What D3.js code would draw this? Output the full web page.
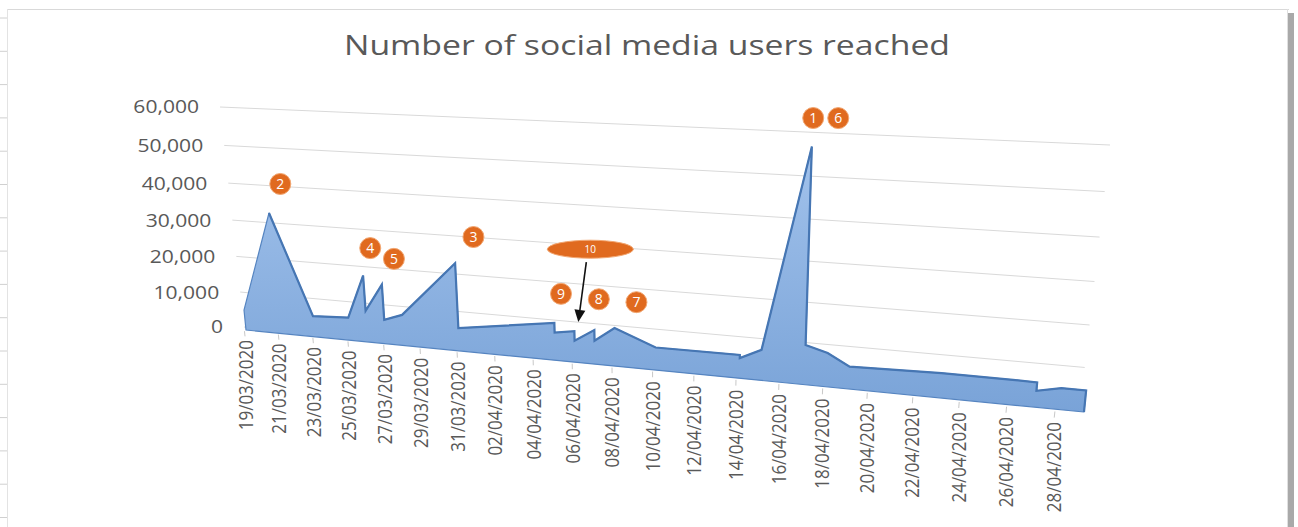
<!DOCTYPE html>
<html>
<head>
<meta charset="utf-8">
<script src="https://cdn.jsdelivr.net/npm/d3@7"></script>
<style>
  body { margin: 0; background: #fff; }
  svg { display: block; }
  text { font-family: "Open Sans", "Noto Sans", sans-serif; }
</style>
</head>
<body>
<svg id="chart" width="1298" height="527"></svg>
<script>
// posts per date (several posts on one day give vertical steps)
const dates = ["19/03/2020","21/03/2020","23/03/2020","25/03/2020","26/03/2020","26/03/2020",
  "27/03/2020","27/03/2020","28/03/2020","31/03/2020","31/03/2020","05/04/2020","05/04/2020",
  "06/04/2020","06/04/2020","07/04/2020","07/04/2020","08/04/2020","10/04/2020","14/04/2020",
  "14/04/2020","15/04/2020","17/04/2020","17/04/2020","18/04/2020","19/04/2020","23/04/2020",
  "26/04/2020","27/04/2020","27/04/2020","28/04/2020","29/04/2020"];
const reach = [5700, 33300, 5800, 6300, 18200, 8600, 16200, 6600, 8400, 23500, 6200, 9900, 7400,
  8200, 5700, 9000, 6200, 10000, 5900, 6000, 5200, 7800, 57400, 10000, 8500, 5600, 6100,
  6100, 6000, 4000, 5200, 5200];

const yTicks = [0, 10000, 20000, 30000, 40000, 50000, 60000];
const dateTicks = ["19/03/2020","21/03/2020","23/03/2020","25/03/2020","27/03/2020","29/03/2020",
  "31/03/2020","02/04/2020","04/04/2020","06/04/2020","08/04/2020","10/04/2020","12/04/2020",
  "14/04/2020","16/04/2020","18/04/2020","20/04/2020","22/04/2020","24/04/2020","26/04/2020",
  "28/04/2020"];

// numbered callouts, anchored in date / value space
const calloutText = ["1", "2", "3", "4", "5", "6", "7", "8", "9"];
const calloutAt = ["17/04/2020 00:30","21/03/2020 19:00","01/04/2020 00:30","26/03/2020 12:00",
  "27/03/2020 18:00","18/04/2020 02:00","09/04/2020 02:00","07/04/2020 06:00","05/04/2020 09:00"];
const calloutValue = [63900, 41300, 30700, 25800, 23400, 64100, 17150, 17100, 17700];
const noteText = "10";
const noteAt = "06/04/2020 21:00", noteValue = 29700;
const arrowAt = "06/04/2020 05:00", arrowValue = 10750;

const title = "Number of social media users reached";

const parseDay = d3.timeParse("%d/%m/%Y");
const parseTime = d3.timeParse("%d/%m/%Y %H:%M");
const SX = 1.17; // horizontal stretch of the text (wide Calibri look)

const svg = d3.select("#chart");

// maps the unit square (u = time, v = value) onto a quadrilateral, giving the 3D perspective
function homography(p00, p10, p11, p01) {
  const [x0, y0] = p00, [x1, y1] = p10, [x2, y2] = p11, [x3, y3] = p01;
  const dx1 = x1 - x2, dx2 = x3 - x2, dx3 = x0 - x1 + x2 - x3;
  const dy1 = y1 - y2, dy2 = y3 - y2, dy3 = y0 - y1 + y2 - y3;
  const den = dx1 * dy2 - dx2 * dy1;
  const g = (dx3 * dy2 - dx2 * dy3) / den, h = (dx1 * dy3 - dx3 * dy1) / den;
  const a = x1 - x0 + g * x1, b = x3 - x0 + h * x3, c = x0;
  const d = y1 - y0 + g * y1, e = y3 - y0 + h * y3, f = y0;
  return (u, v) => {
    const w = g * u + h * v + 1;
    return [(a * u + b * v + c) / w, (d * u + e * v + f) / w];
  };
}

// back wall (gridlines, axes) and the series plane slightly in front of it
const wall = homography([244, 327], [1080, 409], [1110, 145], [220, 107]);
const front = homography([246, 330], [1084, 412], [1110, 148], [224, 110]);

const u = d3.scaleTime()
  .domain([parseDay("19/03/2020"), parseDay("29/04/2020")])
  .range([0, 1]);
const v = d3.scaleLinear().domain([0, 60000]).range([0, 1]);

// frame of the chart object
svg.append("line").attr("x1", 8).attr("x2", 1289).attr("y1", 9.5).attr("y2", 9.5)
  .attr("stroke", "#d9d9d9");
svg.append("line").attr("x1", 7.5).attr("x2", 7.5).attr("y1", 9).attr("y2", 527)
  .attr("stroke", "#e3e3e3");
svg.selectAll("line.row").data(d3.range(18, 527, 33.3)).join("line")
  .attr("class", "row")
  .attr("x1", 0).attr("x2", 7).attr("y1", d => d).attr("y2", d => d)
  .attr("stroke", "#d0d0d0");
svg.append("rect").attr("x", 1288).attr("y", 13).attr("width", 6).attr("height", 514)
  .attr("fill", "#a9a9a9");
svg.append("line").attr("x1", 1287.5).attr("x2", 1287.5).attr("y1", 9).attr("y2", 527)
  .attr("stroke", "#e0e0e0");

// title
svg.append("text")
  .attr("x", 647).attr("y", 55)
  .attr("text-anchor", "middle")
  .attr("font-size", 28)
  .attr("fill", "#595959")
  .attr("textLength", 606)
  .attr("lengthAdjust", "spacingAndGlyphs")
  .text(title);

// gridlines on the back wall
const line = d3.line();
svg.append("g").selectAll("path").data(yTicks).join("path")
  .attr("d", t => line([wall(0, v(t)), wall(1, v(t))]))
  .attr("fill", "none")
  .attr("stroke", "#d9d9d9")
  .attr("stroke-width", 1);

// value axis labels
const fmt = d3.format(",");
svg.append("g").selectAll("text").data(yTicks).join("text")
  .attr("transform", t => {
    const [x, y] = wall(0, v(t));
    return `translate(${x - 21},${y}) scale(${SX},1)`;
  })
  .attr("text-anchor", "end")
  .attr("dy", "0.36em")
  .attr("font-size", 18)
  .attr("fill", "#595959")
  .text(t => fmt(t));

// area series
const grad = svg.append("defs").append("linearGradient")
  .attr("id", "areaFill")
  .attr("gradientUnits", "userSpaceOnUse")
  .attr("x1", 0).attr("x2", 0).attr("y1", 140).attr("y2", 420);
grad.append("stop").attr("offset", 0).attr("stop-color", "#a3c3ec");
grad.append("stop").attr("offset", 1).attr("stop-color", "#78a2d7");

const pts = dates.map((d, i) => front(u(parseDay(d)), v(reach[i])));
const outline = pts.concat([front(1, 0), front(0, 0)]);
svg.append("path")
  .attr("d", line(outline) + "Z")
  .attr("fill", "url(#areaFill)")
  .attr("stroke", "#5584c0")
  .attr("stroke-width", 1.2)
  .attr("stroke-linejoin", "round");
svg.append("path")
  .attr("d", line(pts.slice(1).concat([front(1, 0)])))
  .attr("fill", "none")
  .attr("stroke", "#4676b3")
  .attr("stroke-width", 2.2)
  .attr("stroke-linejoin", "miter");

// date axis: ticks and rotated labels along the front floor edge
const axis = svg.append("g");
axis.selectAll("path").data(dateTicks).join("path")
  .attr("d", d => {
    const t = u(parseDay(d));
    return line([wall(t, -0.02), wall(t, -0.045)]);
  })
  .attr("stroke", "#c8c8c8");
axis.selectAll("text").data(dateTicks).join("text")
  .attr("transform", d => {
    const [x, y] = wall(u(parseDay(d)), -0.063);
    return `translate(${x},${y}) scale(${SX},1) rotate(-90)`;
  })
  .attr("text-anchor", "end")
  .attr("dy", "0.36em")
  .attr("font-size", 17)
  .attr("fill", "#595959")
  .text(d => d);

// arrow from the "10" note down to the dip
const [nx, ny] = front(u(parseTime(noteAt)), v(noteValue));
const [ax, ay] = front(u(parseTime(arrowAt)), v(arrowValue));
const sx = nx - 4, sy = ny + 13;
const ang = Math.atan2(ay - sy, ax - sx);
const headLen = 12, headW = 5.5;
const bx = ax - headLen * Math.cos(ang), by = ay - headLen * Math.sin(ang);
svg.append("line")
  .attr("x1", sx).attr("y1", sy).attr("x2", bx).attr("y2", by)
  .attr("stroke", "#111").attr("stroke-width", 1.6);
svg.append("path")
  .attr("d", line([
    [ax, ay],
    [bx + headW * Math.sin(ang), by - headW * Math.cos(ang)],
    [bx - headW * Math.sin(ang), by + headW * Math.cos(ang)]
  ]) + "Z")
  .attr("fill", "#111");

// note ellipse
svg.append("ellipse")
  .attr("cx", nx).attr("cy", ny).attr("rx", 43).attr("ry", 9)
  .attr("fill", "#e06a1f").attr("stroke", "#f2a772").attr("stroke-width", 1);
svg.append("text")
  .attr("x", nx).attr("y", ny).attr("dy", "0.36em")
  .attr("text-anchor", "middle").attr("font-size", 10).attr("fill", "#fff")
  .text(noteText);

// numbered circles
const circles = svg.append("g").selectAll("g").data(calloutText).join("g")
  .attr("transform", (d, i) => {
    const [x, y] = front(u(parseTime(calloutAt[i])), v(calloutValue[i]));
    return `translate(${x},${y})`;
  });
circles.append("circle")
  .attr("r", 10.5)
  .attr("fill", "#e06a1f")
  .attr("stroke", "#f2a772")
  .attr("stroke-width", 1);
circles.append("text")
  .attr("text-anchor", "middle")
  .attr("dy", "0.36em")
  .attr("font-size", 14)
  .attr("fill", "#fff")
  .text(d => d);
</script>
</body>
</html>
